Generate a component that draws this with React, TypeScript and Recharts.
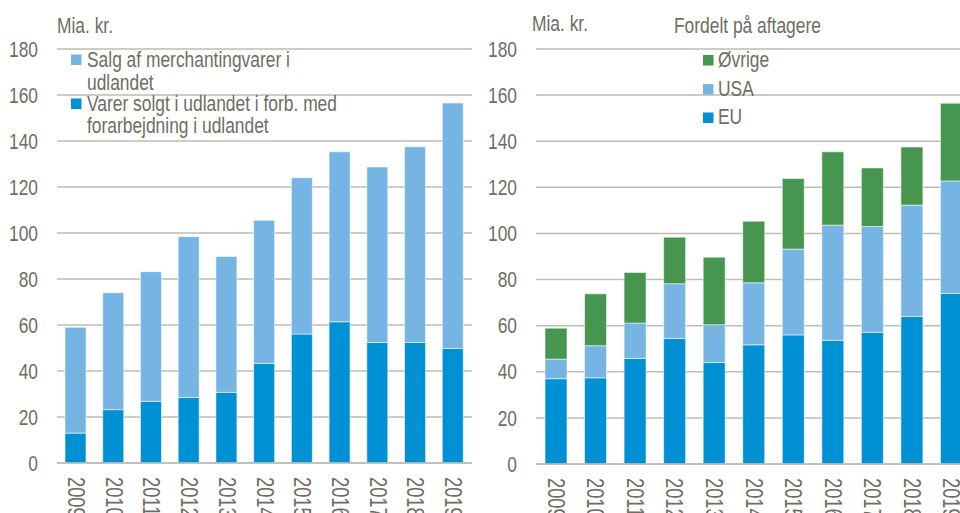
import React from 'react';
import { BarChart, Bar, XAxis, YAxis, CartesianGrid } from 'recharts';

const years = ['2009', '2010', '2011', '2012', '2013', '2014', '2015', '2016', '2017', '2018', '2019'];
const merchanting = [46.0, 50.8, 56.4, 69.9, 59.1, 62.2, 67.9, 73.9, 76.3, 85.1, 106.7];
const forarbejdning = [13.0, 23.2, 26.8, 28.5, 30.7, 43.3, 56.1, 61.4, 52.4, 52.4, 49.8];
const eu = [37.0, 37.4, 45.8, 54.5, 44.0, 51.7, 56.0, 53.6, 57.1, 64.0, 74.0];
const usa = [8.5, 13.9, 15.3, 23.7, 16.4, 26.9, 37.2, 50.0, 45.9, 48.3, 48.8];
const oevrige = [13.4, 22.5, 22.0, 20.2, 29.3, 26.7, 30.6, 31.8, 25.4, 25.2, 33.7];
const yTicks = [0, 20, 40, 60, 80, 100, 120, 140, 160, 180];

const leftData = years.map((y, i) => ({ year: y, forarbejdning: forarbejdning[i], merchanting: merchanting[i] }));
const rightData = years.map((y, i) => ({ year: y, eu: eu[i], usa: usa[i], oevrige: oevrige[i] }));

const DARK = '#0091d4';
const LIGHT = '#76b4e3';
const GREEN = '#479650';
const TXT = '#6e6e62';
const GRID = '#bdbdb1';
const FONT = '"Liberation Sans", Arial, sans-serif';
const FS = 17.4;
const SY = 1.22;

const STxt = ({ x, y, children, anchor = 'start' }: any) => (
  <g transform={`translate(${x},${y}) scale(1,${SY})`}>
    <text x={0} y={0} textAnchor={anchor} fill={TXT} fontSize={FS} fontFamily={FONT}>{children}</text>
  </g>
);

const makeYTick = (lx: number) => (props: any) => {
  const { y, payload } = props;
  return (
    <g transform={`translate(${lx},${y}) scale(1,${SY})`}>
      <text x={0} y={0} textAnchor="end" dominantBaseline="central" fill={TXT} fontSize={FS} fontFamily={FONT}>{payload.value}</text>
    </g>
  );
};

const makeXTick = (ty: number) => (props: any) => {
  const { x, payload } = props;
  return (
    <g transform={`translate(${x},${ty}) rotate(90) scale(1.05,1.4)`}>
      <text x={0} y={0} textAnchor="start" dominantBaseline="central" fill={TXT} fontSize={FS} fontFamily={FONT}>{payload.value}</text>
    </g>
  );
};

const barStroke = { stroke: '#ffffff', strokeOpacity: 0.55, strokeWidth: 1 };

export default function App() {
  return (
    <div style={{ position: 'absolute', left: 0, top: 0, width: 960, height: 513, overflow: 'hidden', background: '#fff' }}>
      <div style={{ position: 'absolute', left: 0, top: 0 }}>
        <BarChart width={480} height={513} data={leftData} margin={{ top: 49, right: 8, bottom: 0, left: 0 }}>
          <CartesianGrid horizontal vertical={false} stroke={GRID} strokeWidth={1.5} />
          <YAxis width={57} domain={[0, 180]} ticks={yTicks} interval={0} axisLine={false} tickLine={false} tick={makeYTick(38)} />
          <XAxis dataKey="year" height={50} interval={0} axisLine={{ stroke: GRID, strokeWidth: 1.5 }} tickLine={false} tick={makeXTick(477)} />
          <Bar dataKey="forarbejdning" stackId="a" fill={DARK} barSize={21} isAnimationActive={false} {...barStroke} />
          <Bar dataKey="merchanting" stackId="a" fill={LIGHT} barSize={21} isAnimationActive={false} {...barStroke} />
        </BarChart>
      </div>
      <div style={{ position: 'absolute', left: 480, top: 0 }}>
        <BarChart width={491} height={513} data={rightData} margin={{ top: 49, right: 0, bottom: 0, left: 0 }}>
          <CartesianGrid horizontal vertical={false} stroke={GRID} strokeWidth={1.5} />
          <YAxis width={56} domain={[0, 180]} ticks={yTicks} interval={0} axisLine={false} tickLine={false} tick={makeYTick(37)} />
          <XAxis dataKey="year" height={49} interval={0} axisLine={{ stroke: GRID, strokeWidth: 1.5 }} tickLine={false} tick={makeXTick(478)} />
          <Bar dataKey="eu" stackId="b" fill={DARK} barSize={22} isAnimationActive={false} {...barStroke} />
          <Bar dataKey="usa" stackId="b" fill={LIGHT} barSize={22} isAnimationActive={false} {...barStroke} />
          <Bar dataKey="oevrige" stackId="b" fill={GREEN} barSize={22} isAnimationActive={false} {...barStroke} />
        </BarChart>
      </div>
      <svg width={960} height={513} style={{ position: 'absolute', left: 0, top: 0, pointerEvents: 'none' }}>
        <STxt x={57} y={33}>Mia. kr.</STxt>
        <rect x={71} y={54.5} width={10.5} height={10.5} fill={LIGHT} />
        <STxt x={87} y={66.5}>Salg af merchantingvarer i</STxt>
        <STxt x={87} y={89.5}>udlandet</STxt>
        <rect x={71} y={98.5} width={10.5} height={10.5} fill={DARK} />
        <STxt x={87} y={111}>Varer solgt i udlandet i forb. med</STxt>
        <STxt x={87} y={133}>forarbejdning i udlandet</STxt>

        <STxt x={532} y={30.5}>Mia. kr.</STxt>
        <STxt x={674} y={33}>Fordelt på aftagere</STxt>
        <rect x={703} y={55} width={10.5} height={10.5} fill={GREEN} />
        <STxt x={718} y={66.5}>Øvrige</STxt>
        <rect x={703} y={84} width={10.5} height={10.5} fill={LIGHT} />
        <STxt x={718} y={95.5}>USA</STxt>
        <rect x={703} y={112.5} width={10.5} height={10.5} fill={DARK} />
        <STxt x={718} y={124}>EU</STxt>
      </svg>
    </div>
  );
}
